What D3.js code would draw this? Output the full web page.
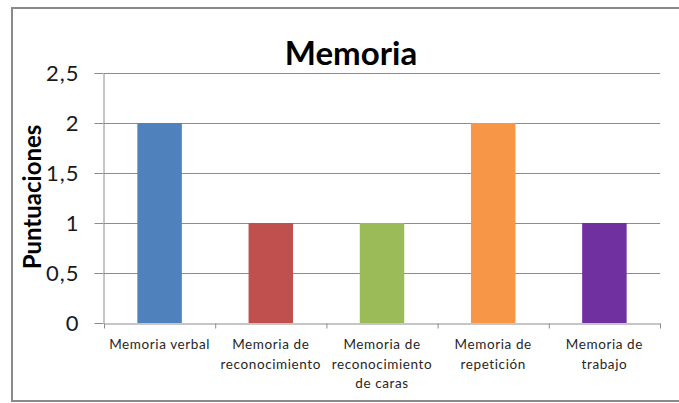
<!DOCTYPE html>
<html>
<head>
<meta charset="utf-8">
<script src="https://cdn.jsdelivr.net/npm/d3@7"></script>
<style>
  body { margin: 0; background: #fff; }
  svg { display: block; font-family: Lato, "Open Sans", sans-serif; }
</style>
</head>
<body>
<svg id="chart-svg" width="679" height="403"></svg>
<script>
// Chart data
const categories = [
    ["Memoria verbal"],
    ["Memoria de", "reconocimiento"],
    ["Memoria de", "reconocimiento", "de caras"],
    ["Memoria de", "repetición"],
    ["Memoria de", "trabajo"]
];
const scores = [2, 1, 1, 2, 1];
const bar_colors = ["#4F81BD", "#C0504D", "#9BBB59", "#F79646", "#7030A0"];
const y_ticks = [0, 0.5, 1, 1.5, 2, 2.5];

const svg = d3.select("#chart-svg");

// outer chart border (right edge runs off the picture)
svg.append("rect")
    .attr("x", 12).attr("y", 8)
    .attr("width", 720).attr("height", 393)
    .attr("fill", "none")
    .attr("stroke", "#8a8a8a")
    .attr("stroke-width", 2);

const plot = { left: 104, right: 660, top: 73, bottom: 323 };
const keys = d3.range(categories.length);

let x = d3.scaleBand()
    .domain(keys)
    .range([plot.left, plot.right])
    .paddingInner(0.6)
    .paddingOuter(0.3);

let x_edges = d3.scaleLinear()
    .domain([0, categories.length])
    .range([plot.left, plot.right]);

let y = d3.scaleLinear()
    .domain([0, 2.5])
    .range([plot.bottom, plot.top]);

// gridlines
svg.append("g")
    .selectAll("line")
    .data(y_ticks.filter(d => d > 0))
    .join("line")
    .attr("x1", plot.left).attr("x2", plot.right)
    .attr("y1", d => Math.round(y(d)) + 0.5)
    .attr("y2", d => Math.round(y(d)) + 0.5)
    .attr("stroke", "#8c8c8c")
    .attr("stroke-width", 1);

// bars
svg.append("g")
    .selectAll("rect")
    .data(scores)
    .join("rect")
    .attr("x", (d, i) => x(i))
    .attr("y", d => y(d))
    .attr("width", x.bandwidth())
    .attr("height", d => y(0) - y(d))
    .attr("fill", (d, i) => bar_colors[i]);

// y axis
const y_axis = svg.append("g")
    .attr("transform", "translate(" + (plot.left - 0.5) + ",0)")
    .call(d3.axisLeft(y)
        .tickValues(y_ticks)
        .tickSize(9)
        .tickSizeOuter(0)
        .tickPadding(15)
        .tickFormat(d => d3.format("")(d).replace(".", ",")));
y_axis.select(".domain").attr("stroke", "#8c8c8c");
y_axis.selectAll(".tick line").attr("stroke", "#8c8c8c");
y_axis.selectAll(".tick text")
    .attr("font-size", 22)
    .attr("font-family", "Lato, sans-serif")
    .attr("letter-spacing", 1)
    .attr("fill", "#1a1a1a");

// x axis (ticks between categories)
const x_axis = svg.append("g")
    .attr("transform", "translate(0," + (plot.bottom + 0.5) + ")")
    .call(d3.axisBottom(x_edges)
        .tickValues(d3.range(categories.length + 1))
        .tickSize(5)
        .tickSizeOuter(0)
        .tickFormat(""));
x_axis.select(".domain").attr("stroke", "#8c8c8c");
x_axis.selectAll(".tick line").attr("stroke", "#8c8c8c");

// category labels
const labels = svg.append("g")
    .selectAll("text")
    .data(categories)
    .join("text")
    .attr("text-anchor", "middle")
    .attr("font-size", 13.5)
    .attr("letter-spacing", 0.6)
    .attr("fill", "#262626")
    .attr("transform", (d, i) => "translate(" + (x(i) + x.bandwidth() / 2) + ",349)");
labels.selectAll("tspan")
    .data(d => d)
    .join("tspan")
    .attr("x", 0)
    .attr("y", (d, i) => i * 19.5)
    .text(d => d);

// title
svg.append("text")
    .attr("x", 351).attr("y", 65)
    .attr("text-anchor", "middle")
    .attr("font-size", 33)
    .attr("font-weight", "bold")
    .attr("fill", "#000")
    .text("Memoria");

// y axis title
svg.append("text")
    .attr("transform", "translate(41,197) rotate(-90)")
    .attr("text-anchor", "middle")
    .attr("font-size", 24)
    .attr("font-weight", "bold")
    .attr("fill", "#000")
    .text("Puntuaciones");
</script>
</body>
</html>
